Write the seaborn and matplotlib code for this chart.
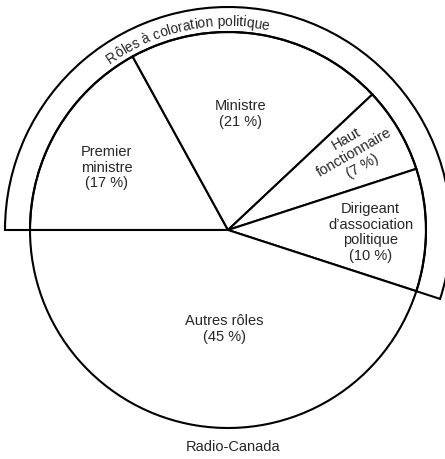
"""
Répartition des rôles - Radio-Canada
Pie chart with an outer band marking the political roles.
"""

import numpy as np
import matplotlib
matplotlib.use("Agg")
import matplotlib.pyplot as plt
import seaborn as sns
from matplotlib.patches import Wedge
from matplotlib.font_manager import FontProperties, findfont, get_font

# ─── Data ───────────────────────────────────────────────────────────────────
ROLES = ["Premier\nministre", "Ministre", "Haut\nfonctionnaire",
         "Dirigeant\nd’association\npolitique", "Autres rôles"]
SHARES = [17, 21, 7, 10, 45]
POLITICAL = [True, True, True, True, False]
BAND_LABEL = "Rôles à coloration politique"
SOURCE = "Radio-Canada"

# ─── Style ──────────────────────────────────────────────────────────────────
sns.set_theme(style="white")
FONT = "Liberation Sans"
plt.rcParams["font.family"] = [FONT, "DejaVu Sans"]
LW = 1.5
CENTER = (228, 229)
R_PIE = 198
R_BAND = 223
# label placement: fraction of radius, angle offset (deg), rotation
LABEL_R = [0.69, 0.59, 0.75, 0.72, 0.50]
LABEL_DA = [3.5, 3.0, 1.0, -1.0, 7.0]
LABEL_ROT = [0, 0, 30, 0, 0]
ARC_SIZE = 10.0

fig = plt.figure(figsize=(4.45, 4.59), dpi=100)
fig.patch.set_facecolor("white")
ax = fig.add_axes([0, 0, 1, 1])

wedges, _ = ax.pie(SHARES, startangle=180, counterclock=False,
                   center=CENTER, radius=R_PIE, colors=["white"] * len(SHARES),
                   wedgeprops=dict(edgecolor="black", linewidth=LW))
ax.set_xlim(0, 445)
ax.set_ylim(0, 459)
ax.set_aspect("equal")
ax.axis("off")

# Labels inside the slices
for i, w in enumerate(wedges):
    mid = np.deg2rad((w.theta1 + w.theta2) / 2 + LABEL_DA[i])
    r = LABEL_R[i] * R_PIE
    ax.text(CENTER[0] + r * np.cos(mid), CENTER[1] + r * np.sin(mid),
            f"{ROLES[i]}\n({SHARES[i]} %)", ha="center", va="center",
            rotation=LABEL_ROT[i], fontsize=10.5, linespacing=1.15,
            rotation_mode="anchor")

# Outer band around the political slices
pol = [w for w, p in zip(wedges, POLITICAL) if p]
t1 = min(w.theta1 for w in pol)
t2 = max(w.theta2 for w in pol)
band = Wedge(CENTER, R_BAND, t1, t2, width=R_BAND - R_PIE,
             fill=False, edgecolor="black", linewidth=LW)
ax.add_patch(band)

# Curved text along the band (glyph advances give even spacing)
fp = FontProperties(family=FONT, size=ARC_SIZE)
ft = get_font(findfont(fp))
ft.set_size(ARC_SIZE, 100)
adv = [ft.load_char(ord(c)).linearHoriAdvance / 65536 for c in BAND_LABEL]
pen = np.concatenate([[0], np.cumsum(adv)])
total = pen[-1]

r_base = R_PIE + 6
a_mid = 102.0
for i, ch in enumerate(BAND_LABEL):
    if ch == " ":
        continue
    t = pen[i] + adv[i] / 2
    ang = a_mid + np.rad2deg((total / 2 - t) / r_base)
    a = np.deg2rad(ang)
    ax.text(CENTER[0] + r_base * np.cos(a), CENTER[1] + r_base * np.sin(a), ch,
            fontproperties=fp, ha="center", va="baseline",
            rotation=ang - 90, rotation_mode="anchor")

fig.text(233 / 445, 1 - 447 / 459, SOURCE, ha="center", va="center", fontsize=10.5)

fig.savefig("out.png", dpi=100, facecolor="white")
plt.close()
